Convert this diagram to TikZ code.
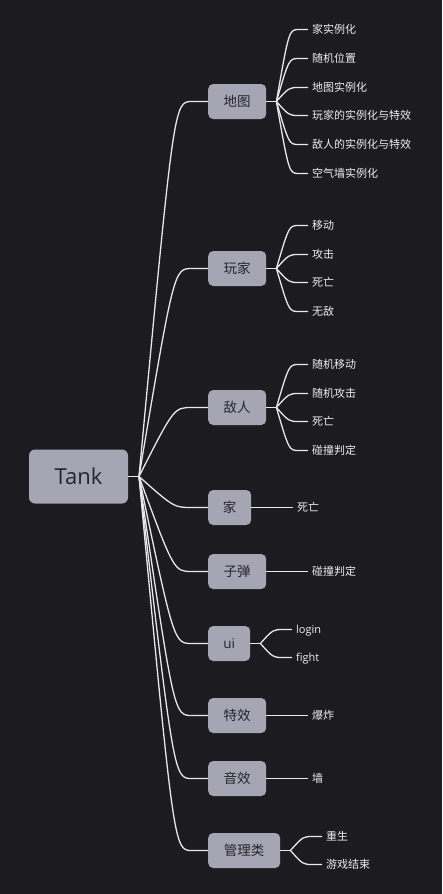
\documentclass[tikz,border=0pt]{standalone}
\usepackage{fontspec}
\setmainfont{Open Sans}
\newfontfamily\cjk{Noto Sans CJK SC}
\usetikzlibrary{calc}
\definecolor{bg}{HTML}{1C1B20}
\definecolor{nodefill}{HTML}{A6A5B3}
\definecolor{nodetext}{HTML}{26252B}
\definecolor{linec}{HTML}{E8E8EA}
\definecolor{leaftext}{HTML}{EEEEF0}
\begin{document}
\begin{tikzpicture}[x=1pt,y=-1pt,
  rootbox/.style={fill=nodefill, rounded corners=6pt, minimum width=99pt, minimum height=54pt, inner sep=0pt, text=nodetext, font=\fontsize{22}{26}\selectfont},
  topicbox/.style={fill=nodefill, rounded corners=5pt, minimum height=35pt, inner sep=0pt, text=nodetext, font=\cjk\fontsize{13.5}{16}\selectfont, anchor=west},
  leaf/.style={anchor=west, inner sep=0pt, text height=9.5pt, text depth=1.1pt, text=leaftext, font=\cjk\fontsize{11}{13}\selectfont},
  conn/.style={draw=linec, line width=1.3pt},
]
\fill[bg] (0,0) rectangle (442,894);
\useasboundingbox (0,0) rectangle (442,894);

% root
\node[rootbox] (root) at (78.5,476.5) {Tank};
\coordinate (rj) at (139,476.5);
\draw[conn] (root.east) -- (rj);

% branches
\foreach \n/\y/\w/\t in {map/101.5/58/地图, player/268.5/58/玩家, enemy/407.5/58/敌人, home/507.5/43/家, bullet/571.5/58/子弹, ui/643.5/42/{\rmfamily ui}, fx/715.5/58/特效, snd/778.5/58/音效, mgr/850.5/72/管理类} {
  \node[topicbox, minimum width=\w pt] (\n) at (208,\y) {\t};
  \draw[conn] (rj) .. controls (174,\y) and (174,\y) .. ([xshift=-16pt]\n.west) -- (\n.west);
}

% leaves of 地图
\coordinate (mapj) at ($(map.east)+(10,0)$);
\draw[conn] (map.east) -- (mapj);
\foreach \i/\y/\t in {1/29.5/家实例化, 2/58.5/随机位置, 3/87.5/地图实例化, 4/115.5/玩家的实例化与特效, 5/144.5/敌人的实例化与特效, 6/173.5/空气墙实例化} {
  \node[leaf] (map\i) at (312,\y) {\t};
  \draw[conn] (mapj) .. controls (289,\y) and (289,\y) .. (299,\y) -- ([xshift=-4pt]map\i.west);
}

% leaves of 玩家
\coordinate (playerj) at ($(player.east)+(10,0)$);
\draw[conn] (player.east) -- (playerj);
\foreach \i/\y/\t in {1/225.5/移动, 2/254.5/攻击, 3/282.5/死亡, 4/311.5/无敌} {
  \node[leaf] (player\i) at (312,\y) {\t};
  \draw[conn] (playerj) .. controls (289,\y) and (289,\y) .. (299,\y) -- ([xshift=-4pt]player\i.west);
}

% leaves of 敌人
\coordinate (enemyj) at ($(enemy.east)+(10,0)$);
\draw[conn] (enemy.east) -- (enemyj);
\foreach \i/\y/\t in {1/364.5/随机移动, 2/393.5/随机攻击, 3/421.5/死亡, 4/450.5/碰撞判定} {
  \node[leaf] (enemy\i) at (312,\y) {\t};
  \draw[conn] (enemyj) .. controls (289,\y) and (289,\y) .. (299,\y) -- ([xshift=-4pt]enemy\i.west);
}

% single leaves
\node[leaf] (home1) at (297,507.5) {死亡};
\draw[conn] (home.east) -- ([xshift=-4pt]home1.west);
\node[leaf] (bullet1) at (312,571.5) {碰撞判定};
\draw[conn] (bullet.east) -- ([xshift=-4pt]bullet1.west);
\node[leaf] (fx1) at (312,715.5) {爆炸};
\draw[conn] (fx.east) -- ([xshift=-4pt]fx1.west);
\node[leaf] (snd1) at (312,778.5) {墙};
\draw[conn] (snd.east) -- ([xshift=-4pt]snd1.west);

% leaves of ui
\coordinate (uij) at ($(ui.east)+(10,0)$);
\draw[conn] (ui.east) -- (uij);
\foreach \i/\y/\t in {1/629.5/login, 2/657.5/fight} {
  \node[leaf, font=\rmfamily\fontsize{11}{13}\selectfont] (ui\i) at (296,\y) {\t};
  \draw[conn] (uij) .. controls (273,\y) and (273,\y) .. (283,\y) -- ([xshift=-4pt]ui\i.west);
}

% leaves of 管理类
\coordinate (mgrj) at ($(mgr.east)+(10,0)$);
\draw[conn] (mgr.east) -- (mgrj);
\foreach \i/\y/\t in {1/836.5/重生, 2/864.5/游戏结束} {
  \node[leaf] (mgr\i) at (326,\y) {\t};
  \draw[conn] (mgrj) .. controls (303,\y) and (303,\y) .. (313,\y) -- ([xshift=-4pt]mgr\i.west);
}
\end{tikzpicture}
\end{document}
